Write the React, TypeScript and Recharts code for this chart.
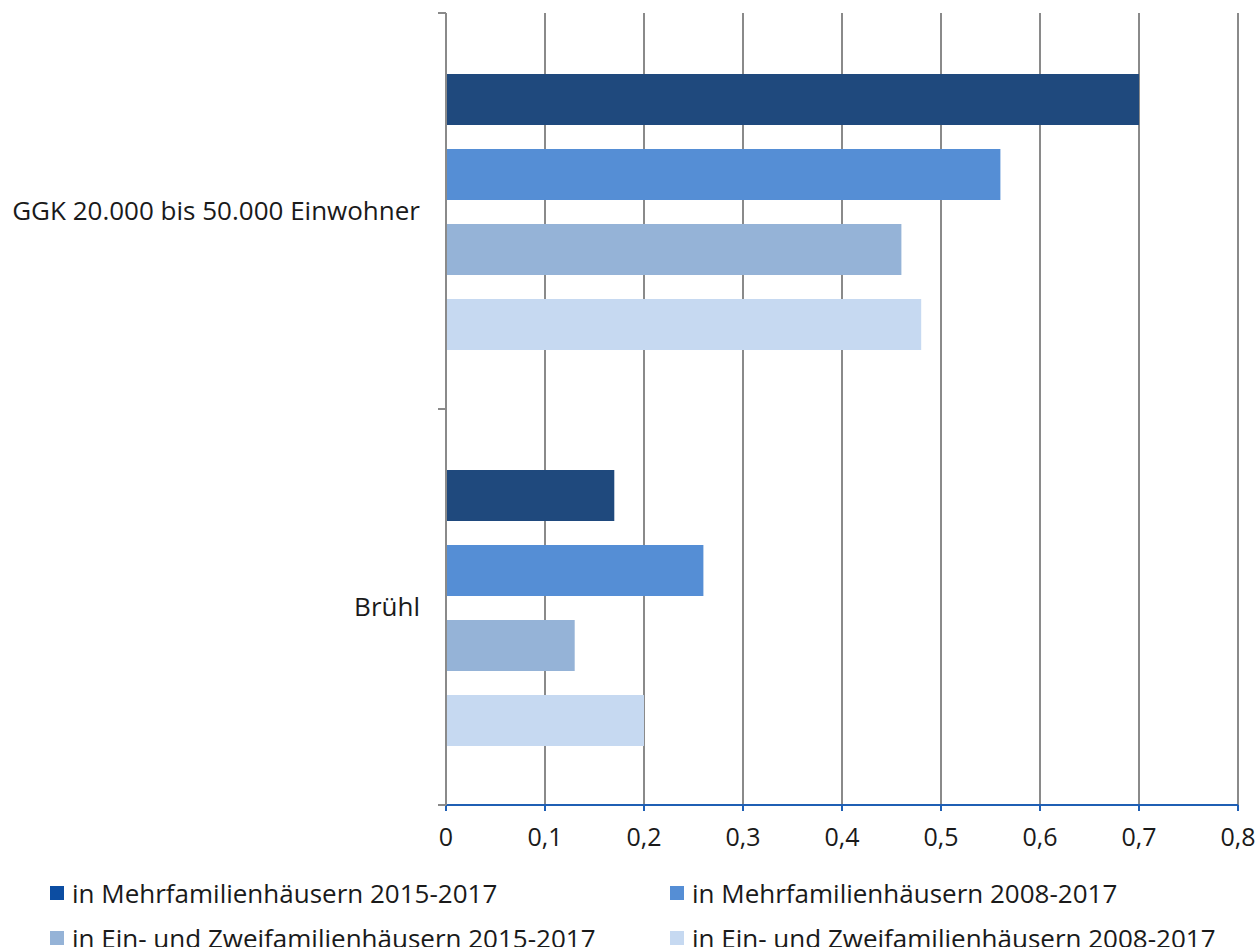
import { BarChart, Bar, XAxis, YAxis, CartesianGrid, Legend } from 'recharts'

const categories = ['GGK 20.000 bis 50.000 Einwohner', 'Brühl']
const mfh1517 = [0.7, 0.17]
const mfh0817 = [0.56, 0.26]
const ezfh1517 = [0.46, 0.13]
const ezfh0817 = [0.48, 0.2]
const xTicks = [0, 0.1, 0.2, 0.3, 0.4, 0.5, 0.6, 0.7, 0.8]

const SERIES = [
  { key: 'mfh1517', name: 'in Mehrfamilienhäusern 2015-2017', color: '#1f497d', legend: '#0c4da2' },
  { key: 'mfh0817', name: 'in Mehrfamilienhäusern 2008-2017', color: '#558ed5', legend: '#558ed5' },
  { key: 'ezfh1517', name: 'in Ein- und Zweifamilienhäusern 2015-2017', color: '#95b3d7', legend: '#95b3d7' },
  { key: 'ezfh0817', name: 'in Ein- und Zweifamilienhäusern 2008-2017', color: '#c6d9f1', legend: '#c6d9f1' },
]

const data = categories.map((name, i) => ({
  name,
  mfh1517: mfh1517[i],
  mfh0817: mfh0817[i],
  ezfh1517: ezfh1517[i],
  ezfh0817: ezfh0817[i],
}))

const FONT = '"Open Sans", sans-serif'
const TEXT = '#1a1a1a'
const GRID = '#8a8a8a'
const AXIS_BLUE = '#1f5fb4'

const W = 1257
const H = 947
const MARGIN = { top: 13, right: 19, bottom: 102, left: 0 }
const X_AXIS_H = 40
const TICK_SIZE = 8
const TICK_MARGIN = 18
// height of one category band, used for the tick marks between categories
const BAND = (H - MARGIN.top - MARGIN.bottom - X_AXIS_H) / categories.length

const fmt = (v: number) => String(v).replace('.', ',')

// category label plus the small tick marks at the band edges (Excel style)
function CategoryTick(props: any) {
  const { x, y, payload } = props
  const axisX = x + TICK_SIZE + TICK_MARGIN
  return (
    <g>
      <line x1={axisX - TICK_SIZE} x2={axisX} y1={y - BAND / 2} y2={y - BAND / 2} stroke={GRID} strokeWidth={2} />
      <line x1={axisX - TICK_SIZE} x2={axisX} y1={y + BAND / 2} y2={y + BAND / 2} stroke={GRID} strokeWidth={2} />
      <text x={x} y={y} dy="0.355em" textAnchor="end" fill={TEXT} fontSize={26} fontFamily={FONT}>
        {payload.value}
      </text>
    </g>
  )
}

function LegendBox() {
  return (
    <div style={{ position: 'relative', width: W, height: 70, fontFamily: FONT, fontSize: 26, color: TEXT }}>
      {SERIES.map((s, i) => (
        <div
          key={s.key}
          style={{
            position: 'absolute',
            left: i % 2 === 0 ? 50 : 670,
            top: i < 2 ? 0 : 45,
            display: 'flex',
            alignItems: 'center',
            height: 14,
            whiteSpace: 'nowrap',
          }}
        >
          <span style={{ width: 14, height: 14, background: s.legend, display: 'inline-block', marginRight: 8 }} />
          <span style={{ lineHeight: '14px' }}>{s.name}</span>
        </div>
      ))}
    </div>
  )
}

export default function App() {
  return (
    <div style={{ position: 'absolute', left: 0, top: 0, background: '#fff' }}>
      <BarChart
        width={W}
        height={H}
        data={data}
        layout="vertical"
        margin={MARGIN}
        barCategoryGap={61}
        barGap={24}
      >
        <CartesianGrid horizontal={false} stroke={GRID} strokeWidth={2} />
        <XAxis
          type="number"
          domain={[0, 0.8]}
          ticks={xTicks}
          interval={0}
          height={X_AXIS_H}
          tickFormatter={fmt}
          axisLine={{ stroke: AXIS_BLUE, strokeWidth: 2 }}
          tickLine={{ stroke: AXIS_BLUE, strokeWidth: 2 }}
          tickSize={6}
          tickMargin={17}
          tick={{ fill: TEXT, fontSize: 25, fontFamily: FONT }}
        />
        <YAxis
          type="category"
          dataKey="name"
          width={446}
          interval={0}
          axisLine={{ stroke: GRID, strokeWidth: 2 }}
          tickLine={false}
          tickSize={TICK_SIZE}
          tickMargin={TICK_MARGIN}
          tick={<CategoryTick />}
        />
        <Legend
          verticalAlign="middle"
          wrapperStyle={{ top: 886, left: 0, width: W }}
          content={() => <LegendBox />}
        />
        {SERIES.map(s => (
          <Bar key={s.key} dataKey={s.key} name={s.name} fill={s.color} isAnimationActive={false} />
        ))}
      </BarChart>
    </div>
  )
}
